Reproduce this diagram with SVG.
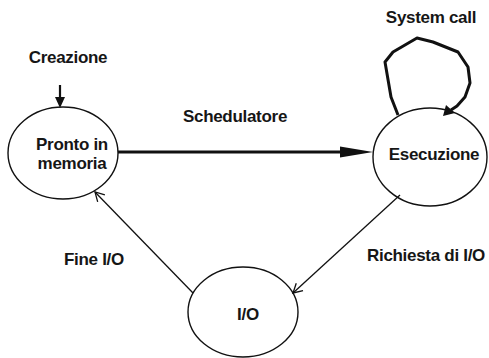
<svg xmlns="http://www.w3.org/2000/svg" width="489" height="358" viewBox="0 0 489 358">
  <style>
    .node { fill: #fff; stroke: #111; stroke-width: 1.4; }
    .lbl { font-family: "Liberation Sans", Arial, sans-serif; font-weight: bold; font-size: 17px; letter-spacing: -0.3px; fill: #161616; text-anchor: middle; }
    .thin { fill: none; stroke: #111; stroke-width: 1.3; }
    .thick { fill: none; stroke: #111; stroke-width: 3; }
  </style>
  <defs>
    <marker id="open" markerWidth="12" markerHeight="12" refX="10" refY="6" orient="auto" markerUnits="userSpaceOnUse">
      <path d="M1,1 L10,6 L1,11" fill="none" stroke="#111" stroke-width="1.3"/>
    </marker>
  </defs>

  <rect width="489" height="358" fill="#fff"/>

  <g id="pronto">
    <ellipse class="node" cx="63" cy="153" rx="55" ry="46"/>
    <text class="lbl" x="72" y="150">Pronto in</text>
    <text class="lbl" x="72" y="169">memoria</text>
  </g>

  <g id="esecuzione">
    <ellipse class="node" cx="430" cy="157" rx="57" ry="49"/>
    <text class="lbl" x="434" y="160">Esecuzione</text>
  </g>

  <g id="io">
    <ellipse class="node" cx="243" cy="312" rx="55" ry="45"/>
    <text class="lbl" x="248" y="320">I/O</text>
  </g>

  <!-- connectors -->
  <g id="connectors">
    <!-- creation entry -->
    <line x1="60" y1="85" x2="60" y2="99" stroke="#111" stroke-width="2.2"/>
    <polygon points="55,97 65,97 60,108" fill="#111"/>
    <text class="lbl" x="68" y="63">Creazione</text>

    <!-- scheduler -->
    <line class="thick" x1="118" y1="152" x2="342" y2="152"/>
    <polygon points="340,146.5 373,152 340,157.5" fill="#111"/>
    <text class="lbl" x="235" y="122">Schedulatore</text>

    <!-- system call loop -->
    <path class="thick" stroke-width="2.6" stroke-linejoin="round" d="M398,115 L391,97 L385,62 L393,52 L417,38 L433,42 L458,52 L468,67 L470,83 L465,97 L457,106 L451,110"/>
    <polygon points="443,116 446,105 455,113" fill="#111"/>
    <text class="lbl" x="431" y="23">System call</text>

    <!-- I/O request -->
    <line class="thin" x1="400" y1="195" x2="293" y2="293" marker-end="url(#open)"/>
    <text class="lbl" x="426" y="261">Richiesta di I/O</text>

    <!-- I/O done -->
    <line class="thin" x1="193" y1="293" x2="95" y2="192" marker-end="url(#open)"/>
    <text class="lbl" x="94" y="265">Fine I/O</text>
  </g>
</svg>
